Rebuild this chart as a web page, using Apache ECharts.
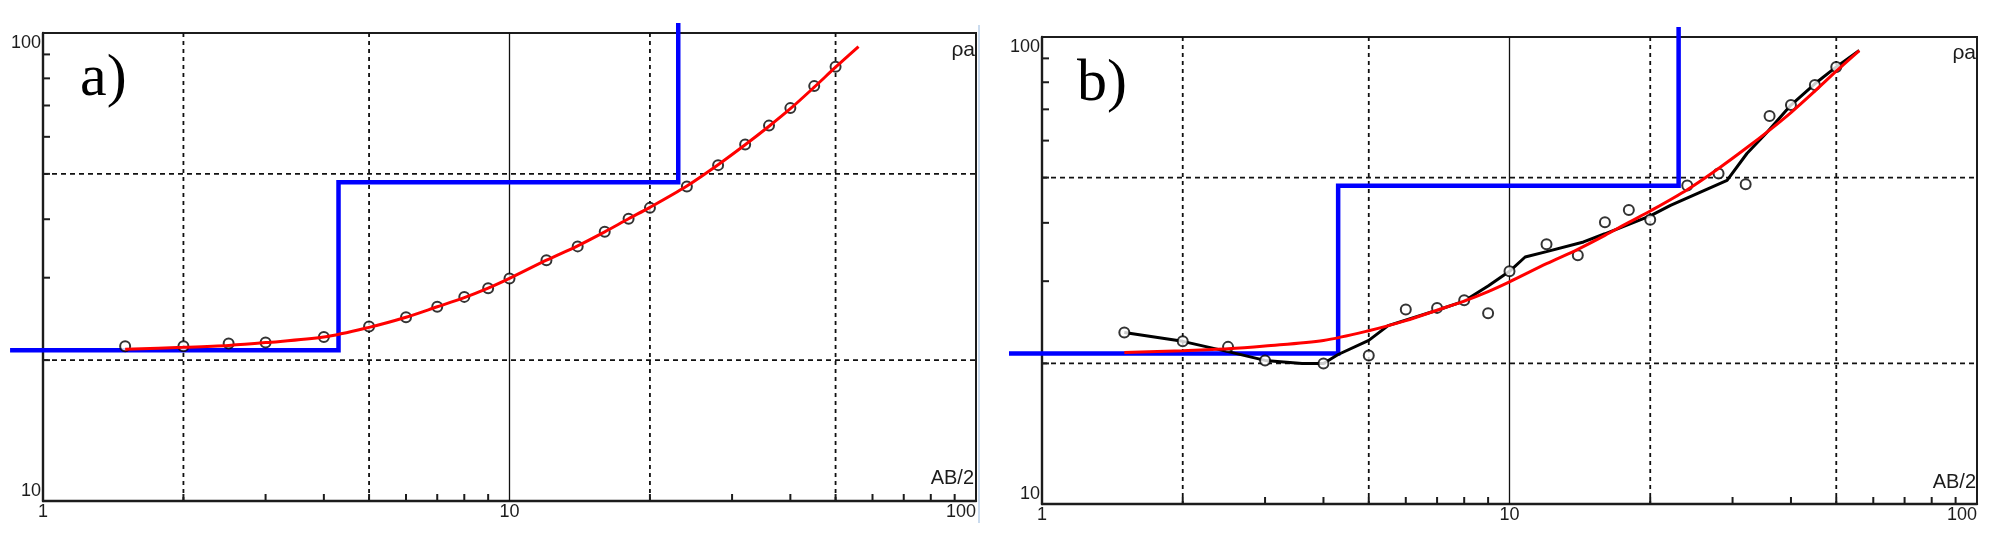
<!DOCTYPE html>
<html>
<head>
<meta charset="utf-8">
<script src="https://cdn.jsdelivr.net/npm/echarts@6/dist/echarts.min.js"></script>
<style>
html, body { margin: 0; padding: 0; background: #fff; }
#chart { width: 1999px; height: 553px; }
</style>
</head>
<body>
<div id="chart"></div>
<script>
// AB/2 spacings of the sounding (same in both panels)
var abHalf = [1.5, 2, 2.5, 3, 4, 5, 6, 7, 8, 9, 10, 12, 14, 16, 18, 20, 24, 28, 32, 36, 40, 45, 50];
// apparent resistivity, panel a (clean) and panel b (noisy)
var rhoA = [21.4, 21.4, 21.7, 21.8, 22.4, 23.6, 24.7, 26.0, 27.3, 28.5, 29.9, 32.7, 35.0, 37.6, 40.1, 42.3, 47.0, 52.2, 57.8, 63.4, 69.1, 77.0, 84.7];
var rhoB = [23.3, 22.3, 21.7, 20.3, 20.0, 20.8, 26.1, 26.3, 27.3, 25.6, 31.5, 36.0, 34.1, 40.1, 42.6, 40.6, 48.1, 51.0, 48.4, 67.7, 71.5, 78.9, 86.3];

// model response (red)
var fitAB = [1.5, 2, 2.5, 3, 4, 5, 6, 7, 8, 9, 10, 12, 14, 16, 18, 20, 24, 28, 32, 36, 40, 45, 50, 56];
var fitRho = [21.1, 21.3, 21.5, 21.8, 22.4, 23.5, 24.7, 26.0, 27.2, 28.5, 29.9, 32.7, 35.1, 37.6, 40.1, 42.4, 47.1, 52.3, 57.7, 63.2, 68.9, 76.6, 84.5, 93.5];

// smoothed field curve (black, panel b)
var smoothAB = [1.5, 2, 2.5, 3, 3.6, 4, 4.3, 5, 5.5, 7, 8, 9, 10, 10.8, 12, 14.4, 16, 20, 22.1, 29.2, 32.2, 35.6, 40, 45, 50, 56];
var smoothRho = [23.3, 22.3, 21.2, 20.3, 20.0, 20.0, 20.9, 22.4, 24.1, 26.0, 27.2, 29.3, 31.5, 33.8, 34.7, 36.4, 37.9, 41.4, 43.6, 49.3, 56.3, 62.6, 71.5, 79.4, 86.3, 93.6];

// layered model (blue step line), runs past the frame on the left and top
var modelDepth = [0.85, 4.3, 4.3, 23.0, 23.0];
var modelRho = [21.0, 21.0, 48.0, 48.0, 105];

// axes
var xTickLabels = [1, 10, 100];
var yTickLabels = [10, 100];
var xMinorTicks = [2, 3, 4, 5, 6, 7, 8, 9, 20, 30, 40, 50, 60, 70, 80, 90];
var yMinorTicks = [20, 30, 40, 50, 60, 70, 80, 90];
var xDashGrid = [2, 5, 20, 50];
var xSolidGrid = [10];
var yDashGrid = [20, 50];

function pairs(xs, ys) {
    return xs.map(function (x, k) { return [x, ys[k]]; });
}

var labelFont = 'Liberation Sans';
var ink = '#1c1c1c';

function vLines(i, values, dash, width) {
    return {
        type: 'custom', xAxisIndex: i, yAxisIndex: i, silent: true, clip: false, z: 1,
        data: values.map(function (v) { return [v, 10]; }),
        encode: {x: 0, y: 1},
        renderItem: function (params, api) {
            var cs = params.coordSys;
            var x = api.coord([api.value(0), 10])[0];
            return {
                type: 'line',
                shape: {x1: x, y1: cs.y, x2: x, y2: cs.y + cs.height},
                style: {stroke: '#111', lineWidth: width, lineDash: dash}
            };
        }
    };
}

function hLines(i, values, dash, width) {
    return {
        type: 'custom', xAxisIndex: i, yAxisIndex: i, silent: true, clip: false, z: 1,
        data: values.map(function (v) { return [1, v]; }),
        encode: {x: 0, y: 1},
        renderItem: function (params, api) {
            var cs = params.coordSys;
            var y = api.coord([1, api.value(1)])[1];
            return {
                type: 'line',
                shape: {x1: cs.x, y1: y, x2: cs.x + cs.width, y2: y},
                style: {stroke: '#111', lineWidth: width, lineDash: dash}
            };
        }
    };
}

function xTicks(i) {
    return {
        type: 'custom', xAxisIndex: i, yAxisIndex: i, silent: true, clip: false, z: 2,
        data: xMinorTicks.map(function (v) { return [v, 10]; }),
        encode: {x: 0, y: 1},
        renderItem: function (params, api) {
            var cs = params.coordSys;
            var x = api.coord([api.value(0), 10])[0];
            var y = cs.y + cs.height;
            return {type: 'line', shape: {x1: x, y1: y, x2: x, y2: y - 7}, style: {stroke: ink, lineWidth: 2}};
        }
    };
}

function yTicks(i) {
    return {
        type: 'custom', xAxisIndex: i, yAxisIndex: i, silent: true, clip: false, z: 2,
        data: yMinorTicks.map(function (v) { return [1, v]; }),
        encode: {x: 0, y: 1},
        renderItem: function (params, api) {
            var cs = params.coordSys;
            var y = api.coord([1, api.value(1)])[1];
            return {type: 'line', shape: {x1: cs.x, y1: y, x2: cs.x + 7, y2: y}, style: {stroke: ink, lineWidth: 2}};
        }
    };
}

// step model drawn from the axes' own decade positions, so it may run past the frame
function modelLine(i) {
    return {
        type: 'custom', xAxisIndex: i, yAxisIndex: i, silent: true, clip: false, z: 3,
        data: [[1, 10]],
        encode: {x: 0, y: 1},
        renderItem: function (params, api) {
            var p1 = api.coord([1, 10]);
            var p2 = api.coord([10, 100]);
            var pts = modelDepth.map(function (d, k) {
                return [
                    p1[0] + (p2[0] - p1[0]) * Math.log10(d),
                    p1[1] + (p2[1] - p1[1]) * (Math.log10(modelRho[k]) - 1)
                ];
            });
            return {
                type: 'polyline',
                shape: {points: pts},
                style: {stroke: '#0000ff', lineWidth: 4.5, fill: null, lineJoin: 'miter'}
            };
        }
    };
}

var panels = [
    {grid: {left: 43, top: 33, width: 933, height: 468}, rho: rhoA, curve: false},
    {grid: {left: 1042, top: 37, width: 935, height: 467}, rho: rhoB, curve: true}
];

var grids = [], xAxes = [], yAxes = [], series = [];

panels.forEach(function (p, i) {
    grids.push(Object.assign({show: true, borderColor: ink, borderWidth: 2, backgroundColor: '#fff'}, p.grid));
    xAxes.push({
        gridIndex: i, type: 'log', logBase: 10, min: 1, max: 100,
        axisLine: {lineStyle: {color: ink, width: 2.4}},
        axisTick: {show: false}, splitLine: {show: false},
        axisLabel: {
            margin: 2, showMinLabel: true, showMaxLabel: true,
            fontFamily: labelFont, fontSize: 18, color: ink,
            formatter: function (v) {
                var r = Math.round(v);
                if (xTickLabels.indexOf(r) < 0) return '';
                return r === 100 ? '{r|100}' : String(r);
            },
            rich: {r: {fontFamily: labelFont, fontSize: 18, color: ink, padding: [0, 30, 0, 0]}}
        }
    });
    yAxes.push({
        gridIndex: i, type: 'log', logBase: 10, min: 10, max: 100,
        axisLine: {lineStyle: {color: ink, width: 2.4}},
        axisTick: {show: false}, splitLine: {show: false},
        axisLabel: {
            margin: 2, showMinLabel: true, showMaxLabel: true,
            fontFamily: labelFont, fontSize: 18, color: ink,
            formatter: function (v) {
                var r = Math.round(v);
                if (yTickLabels.indexOf(r) < 0) return '';
                return r === 100 ? '{t|100}' : '{b|10}';
            },
            rich: {
                t: {fontFamily: labelFont, fontSize: 18, color: ink, padding: [20, 0, 0, 0]},
                b: {fontFamily: labelFont, fontSize: 18, color: ink, padding: [0, 0, 20, 0]}
            }
        }
    });

    series.push(vLines(i, xDashGrid, [4, 4], 1.8));
    series.push(vLines(i, xSolidGrid, null, 1.3));
    series.push(hLines(i, yDashGrid, [5, 4], 1.8));
    series.push(xTicks(i));
    series.push(yTicks(i));
    series.push(modelLine(i));

    if (p.curve) {
        series.push({
            type: 'line', xAxisIndex: i, yAxisIndex: i, z: 4,
            data: pairs(smoothAB, smoothRho),
            symbol: 'none', lineStyle: {color: '#000', width: 3}
        });
    }
    series.push({
        type: 'scatter', xAxisIndex: i, yAxisIndex: i, z: 5,
        data: pairs(abHalf, p.rho),
        symbol: 'circle', symbolSize: 10,
        itemStyle: {color: '#fff', borderColor: '#000', borderWidth: 2}
    });
    series.push({
        type: 'line', xAxisIndex: i, yAxisIndex: i, z: 6,
        data: pairs(fitAB, fitRho),
        symbol: 'none', smooth: 0.3, lineStyle: {color: '#ff0000', width: 3}
    });
});

var serif = {fontFamily: 'Liberation Serif', fontSize: 60, fontWeight: 'normal', color: '#000'};
var small = {fontFamily: labelFont, fontSize: 21, fontWeight: 'normal', color: ink};
var axName = {fontFamily: labelFont, fontSize: 20, fontWeight: 'normal', color: ink};

var myChart = echarts.init(document.getElementById('chart'));
myChart.setOption({
    animation: false,
    backgroundColor: '#fff',
    title: [
        {text: 'a)', left: 80, top: 49, padding: 0, textStyle: serif},
        {text: 'b)', left: 1077, top: 54, padding: 0, textStyle: serif},
        {text: 'ρa', right: 1024, top: 40, padding: 0, textStyle: small},
        {text: 'ρa', right: 23, top: 43, padding: 0, textStyle: small},
        {text: 'AB/2', right: 1025, top: 468, padding: 0, textStyle: axName},
        {text: 'AB/2', right: 23, top: 472, padding: 0, textStyle: axName}
    ],
    graphic: [
        {type: 'line', silent: true, shape: {x1: 979, y1: 25, x2: 979, y2: 523}, style: {stroke: '#b9cfe8', lineWidth: 1.5}}
    ],
    grid: grids,
    xAxis: xAxes,
    yAxis: yAxes,
    series: series
});
</script>
</body>
</html>
